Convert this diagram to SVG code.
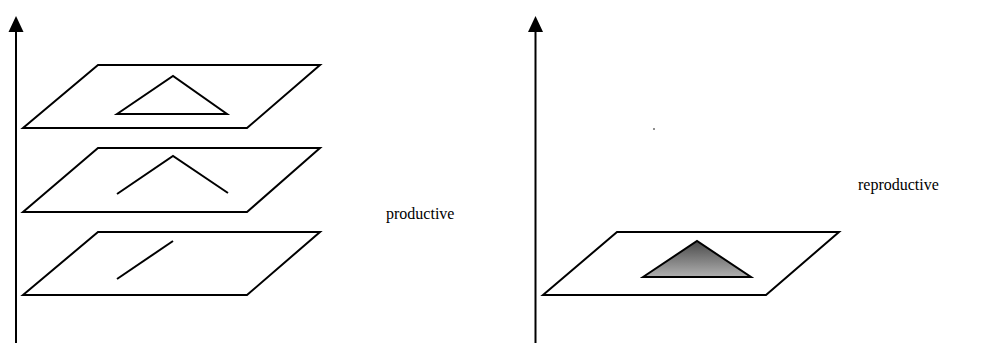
<svg xmlns="http://www.w3.org/2000/svg" width="992" height="343" viewBox="0 0 992 343">
<style>
.ln{fill:none;stroke:#000;stroke-width:2;stroke-linejoin:miter}
.pl{fill:#fff;stroke:#000;stroke-width:2}
.lbl{font-family:"Liberation Serif","Times New Roman",serif;font-size:16px;fill:#000}
</style>
<defs>
<linearGradient id="g" x1="0" y1="0" x2="0" y2="1">
<stop offset="0" stop-color="#4a4a4a"/>
<stop offset="1" stop-color="#b0b0b0"/>
</linearGradient>
</defs>
<rect width="992" height="343" fill="#fff"/>
<g id="connectors">
<line class="ln" x1="16" y1="30" x2="16" y2="343"/>
<polygon points="16,16 8.5,32 23.5,32" fill="#000"/>
<line class="ln" x1="535.5" y1="30" x2="535.5" y2="343"/>
<polygon points="535.5,16 528,32 543,32" fill="#000"/>
</g>
<g id="plane-top">
<polygon class="pl" points="23,128 98,65 320,65 247,128"/>
<polygon class="ln" points="117,114 173,76 227,114"/>
</g>
<g id="plane-middle">
<polygon class="pl" points="23,212 98,148 320,148 247,212"/>
<polyline class="ln" points="117,194 173,156 228,193"/>
</g>
<g id="plane-bottom">
<polygon class="pl" points="23,295 98,232 320,232 247,295"/>
<line class="ln" x1="117" y1="279" x2="173" y2="241"/>
</g>
<g id="plane-right">
<polygon class="pl" points="543,295 617,232 839,232 766,295"/>
<polygon points="643,277 697,241 751,277" fill="url(#g)" stroke="#000" stroke-width="2"/>
</g>
<circle cx="654" cy="129" r="0.8" fill="#000"/>
<text class="lbl" x="386" y="219">productive</text>
<text class="lbl" x="858" y="190">reproductive</text>
</svg>
